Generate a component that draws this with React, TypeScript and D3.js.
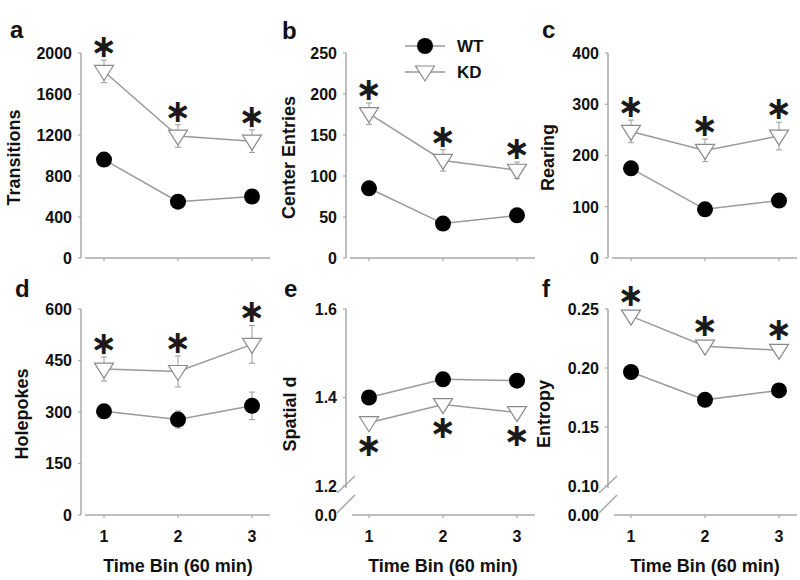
import React from "react";
import * as d3 from "d3";

// ---------- data ----------
const timeBins = [1, 2, 3];
const xTickLabels = ["1", "2", "3"];
const seriesNames = ["WT", "KD"];

const wtTransitions = [960, 550, 600];
const wtTransitionsErr = [40, 30, 35];
const kdTransitions = [1820, 1190, 1140];
const kdTransitionsErr = [110, 110, 110];
const transitionsTicks = [0, 400, 800, 1200, 1600, 2000];

const wtCenter = [85, 42, 52];
const wtCenterErr = [4, 3, 4];
const kdCenter = [176, 119, 107];
const kdCenterErr = [13, 13, 10];
const centerTicks = [0, 50, 100, 150, 200, 250];

const wtRearing = [175, 95, 112];
const wtRearingErr = [8, 6, 8];
const kdRearing = [247, 210, 238];
const kdRearingErr = [22, 22, 27];
const rearingTicks = [0, 100, 200, 300, 400];

const wtHolepokes = [302, 278, 318];
const wtHolepokesErr = [15, 25, 40];
const kdHolepokes = [425, 418, 497];
const kdHolepokesErr = [35, 45, 55];
const holepokesTicks = [0, 150, 300, 450, 600];

const wtSpatial = [1.4, 1.441, 1.438];
const wtSpatialErr = [0.008, 0.006, 0.006];
const kdSpatial = [1.343, 1.384, 1.366];
const kdSpatialErr = [0.005, 0.005, 0.005];
const spatialTicks = [1.2, 1.4, 1.6];
const spatialZero = 0.0;

const wtEntropy = [0.1966, 0.173, 0.181];
const wtEntropyErr = [0.002, 0.002, 0.002];
const kdEntropy = [0.244, 0.2185, 0.215];
const kdEntropyErr = [0.002, 0.002, 0.002];
const entropyTicks = [0.1, 0.15, 0.2, 0.25];
const entropyZero = 0.0;

const xTitle = "Time Bin (60 min)";
const starSymbol = "\u2217";

// ---------- layout ----------
const FONT = "'Liberation Sans', Arial, sans-serif";
const AXIS = "#a8a8a8";
const LINE = "#9a9a9a";
const colX = [81, 346, 608];
const rows = [
  { top: 53, zero: 258 },
  { top: 309, zero: 515, brk: 486 },
];

type Panel = {
  letter: string;
  label: string;
  col: number;
  row: number;
  wt: number[];
  wtErr: number[];
  kd: number[];
  kdErr: number[];
  ticks: number[];
  decimals: number;
  zero?: number;
  starBelow?: boolean;
  labelX: number;
  letterPos: [number, number];
};

const panels: Panel[] = [
  { letter: "a", label: "Transitions", col: 0, row: 0, wt: wtTransitions, wtErr: wtTransitionsErr, kd: kdTransitions, kdErr: kdTransitionsErr, ticks: transitionsTicks, decimals: 0, labelX: 20, letterPos: [10, 38] },
  { letter: "b", label: "Center Entries", col: 1, row: 0, wt: wtCenter, wtErr: wtCenterErr, kd: kdCenter, kdErr: kdCenterErr, ticks: centerTicks, decimals: 0, labelX: 295, letterPos: [282, 39] },
  { letter: "c", label: "Rearing", col: 2, row: 0, wt: wtRearing, wtErr: wtRearingErr, kd: kdRearing, kdErr: kdRearingErr, ticks: rearingTicks, decimals: 0, labelX: 554, letterPos: [542, 38] },
  { letter: "d", label: "Holepokes", col: 0, row: 1, wt: wtHolepokes, wtErr: wtHolepokesErr, kd: kdHolepokes, kdErr: kdHolepokesErr, ticks: holepokesTicks, decimals: 0, labelX: 28, letterPos: [15, 297] },
  { letter: "e", label: "Spatial d", col: 1, row: 1, wt: wtSpatial, wtErr: wtSpatialErr, kd: kdSpatial, kdErr: kdSpatialErr, ticks: spatialTicks, decimals: 1, zero: spatialZero, starBelow: true, labelX: 296, letterPos: [284, 297] },
  { letter: "f", label: "Entropy", col: 2, row: 1, wt: wtEntropy, wtErr: wtEntropyErr, kd: kdEntropy, kdErr: kdEntropyErr, ticks: entropyTicks, decimals: 2, zero: entropyZero, labelX: 550, letterPos: [542, 297] },
];

const triPath = (cx: number, cy: number) =>
  `M${cx - 9.5},${cy - 6}L${cx + 9.5},${cy - 6}L${cx},${cy + 9}Z`;

const STAR_FS = 32;
function Star({ x, y }: { x: number; y: number }) {
  return (
    <text x={x} y={y} dominantBaseline="central" textAnchor="middle" fontFamily="'DejaVu Sans', sans-serif" fontWeight="bold" fontSize={STAR_FS} fill="#1a1a1a">
      {starSymbol}
    </text>
  );
}

function PanelView({ p }: { p: Panel }) {
  const ax = colX[p.col];
  const r = rows[p.row];
  const x = d3.scaleLinear().domain([1, 3]).range([ax + 23, ax + 171]);
  const hasBreak = p.zero !== undefined;
  const dom = d3.extent(p.ticks) as [number, number];
  const y = d3
    .scaleLinear()
    .domain(dom)
    .range(hasBreak ? [r.brk as number, r.top] : [r.zero, r.top]);
  const line = d3
    .line<number>()
    .x((_, i) => x(timeBins[i]))
    .y((v) => y(v));
  const axisBottom = r.zero;
  const yAxisEnd = hasBreak ? (r.brk as number) + 2 : r.zero;
  const fmt = (v: number) => v.toFixed(p.decimals);

  const errBars = (vals: number[], errs: number[], key: string) =>
    vals.map((v, i) => {
      const cx = x(timeBins[i]);
      const y1 = y(v - errs[i]);
      const y2 = y(v + errs[i]);
      return (
        <g key={key + i} stroke={LINE} strokeWidth={1}>
          <line x1={cx} x2={cx} y1={y1} y2={y2} />
          <line x1={cx - 3} x2={cx + 3} y1={y1} y2={y1} />
          <line x1={cx - 3} x2={cx + 3} y1={y2} y2={y2} />
        </g>
      );
    });

  return (
    <g>
      <text x={p.letterPos[0]} y={p.letterPos[1]} fontFamily={FONT} fontWeight="bold" fontSize={24} fill="#111">
        {p.letter}
      </text>
      <text
        transform={`translate(${p.labelX},${(r.top + r.zero) / 2 + 2}) rotate(-90)`}
        textAnchor="middle"
        fontFamily={FONT}
        fontWeight="bold"
        fontSize={18}
        fill="#111"
      >
        {p.label}
      </text>
      <line x1={ax} x2={ax} y1={r.top} y2={yAxisEnd} stroke={AXIS} strokeWidth={1.5} />
      {p.ticks.map((t) => (
        <g key={"t" + t}>
          <line x1={ax - 3} x2={ax} y1={y(t)} y2={y(t)} stroke={AXIS} strokeWidth={1.2} />
          <text x={ax - 9} y={y(t)} dy="0.36em" textAnchor="end" fontFamily={FONT} fontWeight="bold" fontSize={16} fill="#111">
            {fmt(t)}
          </text>
        </g>
      ))}
      {hasBreak && (
        <g>
          <text x={ax - 9} y={axisBottom} dy="0.36em" textAnchor="end" fontFamily={FONT} fontWeight="bold" fontSize={16} fill="#111">
            {fmt(p.zero as number)}
          </text>
          <line x1={ax - 9} x2={ax + 9} y1={(r.brk as number) + 7} y2={(r.brk as number) - 10} stroke={AXIS} strokeWidth={1.5} />
          <line x1={ax - 9} x2={ax + 9} y1={axisBottom - 2} y2={axisBottom - 20} stroke={AXIS} strokeWidth={1.5} />
        </g>
      )}
      <line x1={ax + (hasBreak ? 6 : 4)} x2={ax + 189} y1={axisBottom} y2={axisBottom} stroke={AXIS} strokeWidth={1.5} />
      {timeBins.map((b, i) => (
        <g key={"x" + b}>
          <line x1={x(b)} x2={x(b)} y1={axisBottom} y2={axisBottom + 3} stroke={AXIS} strokeWidth={1.2} />
          {p.row === 1 && (
            <text x={x(b)} y={542} textAnchor="middle" fontFamily={FONT} fontWeight="bold" fontSize={16} fill="#111">
              {xTickLabels[i]}
            </text>
          )}
        </g>
      ))}
      {p.row === 1 && (
        <text x={x(2)} y={572} textAnchor="middle" fontFamily={FONT} fontWeight="bold" fontSize={18} fill="#111">
          {xTitle}
        </text>
      )}
      <path d={line(p.wt) as string} fill="none" stroke={LINE} strokeWidth={1.5} />
      <path d={line(p.kd) as string} fill="none" stroke={LINE} strokeWidth={1.5} />
      {errBars(p.wt, p.wtErr, "we")}
      {errBars(p.kd, p.kdErr, "ke")}
      {p.wt.map((v, i) => (
        <circle key={"wc" + i} cx={x(timeBins[i])} cy={y(v)} r={8} fill="#000" />
      ))}
      {p.kd.map((v, i) => (
        <path key={"kt" + i} d={triPath(x(timeBins[i]), y(v))} fill="#fff" stroke="#8a8a8a" strokeWidth={1.2} />
      ))}
      {p.kd.map((v, i) => {
        const cx = x(timeBins[i]);
        const cy = p.starBelow
          ? y(v) + 22
          : Math.min(y(v + p.kdErr[i]) - 14, y(v) - 21);
        return <Star key={"s" + i} x={cx} y={cy} />;
      })}
    </g>
  );
}

export default function App() {
  const lx = d3.scaleLinear().domain([0, 1]).range([405, 445]);
  return (
    <svg width={800} height={580} style={{ position: "absolute", left: 0, top: 0, background: "#fff" }}>
      <rect width={800} height={580} fill="#fff" />
      {panels.map((p) => (
        <PanelView key={p.letter} p={p} />
      ))}
      <g>
        <line x1={lx(0)} x2={lx(1)} y1={46} y2={46} stroke={LINE} strokeWidth={1.5} />
        <circle cx={lx(0.5)} cy={46} r={8} fill="#000" />
        <text x={457} y={52} fontFamily={FONT} fontWeight="bold" fontSize={17} fill="#111">
          {seriesNames[0]}
        </text>
        <line x1={lx(0)} x2={lx(1)} y1={72} y2={72} stroke={LINE} strokeWidth={1.5} />
        <path d={triPath(lx(0.5), 72)} fill="#fff" stroke="#8a8a8a" strokeWidth={1.2} />
        <text x={457} y={78} fontFamily={FONT} fontWeight="bold" fontSize={17} fill="#111">
          {seriesNames[1]}
        </text>
      </g>
    </svg>
  );
}
